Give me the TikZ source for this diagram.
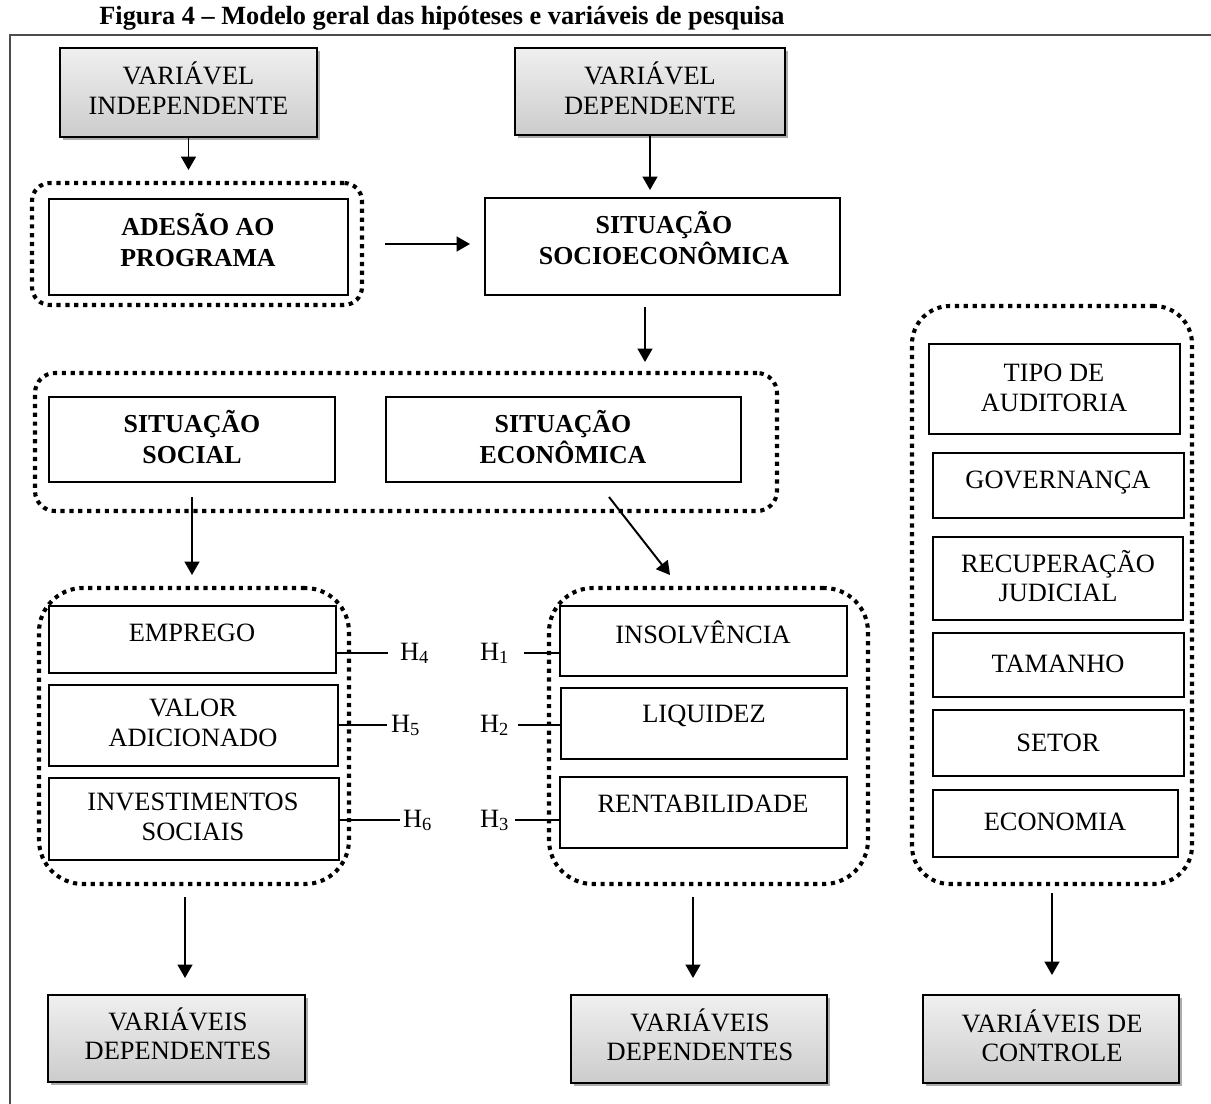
\documentclass[tikz,border=0pt]{standalone}
\usepackage{fontspec}
\setmainfont{Liberation Serif}
\usetikzlibrary{fit,shadows,arrows.meta,calc}
\begin{document}
\begin{tikzpicture}[x=0.025cm,y=-0.025cm,
  every node/.style={inner sep=0pt, outer sep=0pt},
  box/.style={draw=black, line width=1.3pt, fill=white},
  varbox/.style={draw=black, line width=1.6pt, top color=gray!12, bottom color=gray!40,
    drop shadow={shadow xshift=1.8pt, shadow yshift=-1.8pt, fill=gray!65, opacity=1}},
  group/.style={draw=black, line width=2.9pt, dash pattern=on 3pt off 3.3pt, rounded corners=#1},
  group/.default=0.5cm,
  txt/.style={font=\fontsize{18.8}{21}\selectfont, align=center},
  btxt/.style={font=\fontsize{18.4}{22}\selectfont\bfseries, align=center},
  one/.style={font=\fontsize{18.8}{21}\selectfont, anchor=base},
  hlab/.style={font=\fontsize{18.8}{21}\selectfont, anchor=base west},
  link/.style={line width=1.3pt},
  arr/.style={line width=1.4pt, -{Triangle[length=9.5pt,width=10.5pt]}},
]
\fill[white] (0,0) rectangle (1211,1104);
\useasboundingbox (0,0) rectangle (1211,1104);

% caption and frame
\node[font=\fontsize{18.7}{21}\selectfont\bfseries, anchor=base] (title) at (442,25)
  {Figura 4 – Modelo geral das hipóteses e variáveis de pesquisa};
\draw[line width=1.4pt, black!70] (10,1110) -- (10,35) -- (1215,35);

% dotted groupings
\node[group=0.45cm, fit={(32,183)(362,305)}] (adc) {};
\node[group=0.5cm, fit={(35,373)(777,511)}] (mid) {};
\node[group=1.1cm, fit={(39,588)(349,884)}] (lg) {};
\node[group=1.1cm, fit={(549,588)(868,884)}] (rg) {};
\node[group=0.95cm, fit={(912,306)(1192,884)}] (cg) {};

% shaded variable boxes
\node[varbox, fit={(60,48)(317,137)}] (vi) {};
\node[txt] (tvi) at (188.5,88) {VARIÁVEL\\INDEPENDENTE};
\node[varbox, fit={(515,48)(785,135)}] (vd) {};
\node[txt] (tvd) at (650,88) {VARIÁVEL\\DEPENDENTE};
\node[varbox, fit={(48,995)(305,1082)}] (dv1) {};
\node[txt] (tdv1) at (178,1034) {VARIÁVEIS\\DEPENDENTES};
\node[varbox, fit={(571,995)(827,1083)}] (dv2) {};
\node[txt] (tdv2) at (700,1035) {VARIÁVEIS\\DEPENDENTES};
\node[varbox, fit={(923,995)(1179,1083)}] (dv3) {};
\node[txt] (tdv3) at (1052,1036) {VARIÁVEIS DE\\CONTROLE};

% main boxes
\node[box, fit={(49,199)(348,295)}] (ad) {};
\node[btxt] (tad) at (198,240) {ADESÃO AO\\PROGRAMA};
\node[box, fit={(485,198)(840,295)}] (se) {};
\node[btxt] (tse) at (664,238) {SITUAÇÃO\\SOCIOECONÔMICA};
\node[box, fit={(49,397)(335,482)}] (ss) {};
\node[btxt] (tss) at (192,437) {SITUAÇÃO\\SOCIAL};
\node[box, fit={(386,397)(741,482)}] (sec) {};
\node[btxt] (tsec) at (563,437) {SITUAÇÃO\\ECONÔMICA};

% social variables
\node[box, fit={(49,606)(336,673)}] (emp) {};
\node[one] (temp) at (192,641) {EMPREGO};
\node[box, fit={(49,685)(338,766)}] (va) {};
\node[txt] (tva) at (193,723) {VALOR\\ADICIONADO};
\node[box, fit={(49,778)(339,860)}] (inv) {};
\node[txt] (tinv) at (193,817) {INVESTIMENTOS\\SOCIAIS};

% economic variables
\node[box, fit={(560,606)(847,676)}] (ins) {};
\node[one] (tins) at (703,643) {INSOLVÊNCIA};
\node[box, fit={(561,688)(847,759)}] (liq) {};
\node[one] (tliq) at (704,722) {LIQUIDEZ};
\node[box, fit={(560,777)(847,848)}] (ren) {};
\node[one] (tren) at (703,812) {RENTABILIDADE};

% control variables
\node[box, fit={(929,344)(1180,434)}] (tipo) {};
\node[txt] (ttipo) at (1054,388) {TIPO DE\\AUDITORIA};
\node[box, fit={(933,453)(1184,518)}] (gov) {};
\node[one] (tgov) at (1058,488) {GOVERNANÇA};
\node[box, fit={(933,537)(1183,620)}] (rec) {};
\node[txt] (trec) at (1058,576) {RECUPERAÇÃO\\JUDICIAL};
\node[box, fit={(933,633)(1184,697)}] (tam) {};
\node[one] (ttam) at (1058,672) {TAMANHO};
\node[box, fit={(933,710)(1184,776)}] (setor) {};
\node[one] (tsetor) at (1058,751) {SETOR};
\node[box, fit={(933,790)(1178,857)}] (eco) {};
\node[one] (teco) at (1055,830) {ECONOMIA};

% hypothesis labels
\node[hlab] (h4) at (400,660) {H\textsubscript{4}};
\node[hlab] (h5) at (391,732) {H\textsubscript{5}};
\node[hlab] (h6) at (403,827) {H\textsubscript{6}};
\node[hlab] (h1) at (480,660) {H\textsubscript{1}};
\node[hlab] (h2) at (480,732) {H\textsubscript{2}};
\node[hlab] (h3) at (480,827) {H\textsubscript{3}};

\draw[link, shorten >=0.3cm] (emp.east |- h4.west) -- (h4.west);
\draw[link, shorten >=0.1cm] (va.east |- h5.west) -- (h5.west);
\draw[link, shorten >=0.075cm] (inv.east |- h6.west) -- (h6.west);
\draw[link, shorten <=0.375cm] (h1.east) -- (h1.east -| ins.west);
\draw[link, shorten <=0.225cm] (h2.east) -- (h2.east -| liq.west);
\draw[link, shorten <=0.15cm] (h3.east) -- (h3.east -| ren.west);

% arrows
\draw[arr, shorten >=0.325cm] (vi.south) -- (vi.south |- adc.north);
\draw[arr, shorten >=0.2cm] (vd.south) -- (vd.south |- se.north);
\draw[arr, shorten <=0.575cm, shorten >=0.375cm] (adc.east) -- (adc.east -| se.west);
\coordinate (c4) at (645,307);
\draw[arr, shorten >=0.275cm] (c4) -- (c4 |- mid.north);
\draw[arr, shorten <=0.375cm, shorten >=0.325cm] (ss.south) -- (ss.south |- lg.north);
\coordinate (c6a) at (609,497);
\coordinate (c6b) at (670,575);
\draw[arr] (c6a) -- (c6b);
\coordinate (c7) at (185,897);
\draw[arr, shorten >=0.425cm] (c7) -- (c7 |- dv1.north);
\coordinate (c8) at (693,897);
\draw[arr, shorten >=0.425cm] (c8) -- (c8 |- dv2.north);
\draw[arr, shorten <=0.225cm, shorten >=0.5cm] (cg.south) -- (cg.south |- dv3.north);
\end{tikzpicture}
\end{document}
